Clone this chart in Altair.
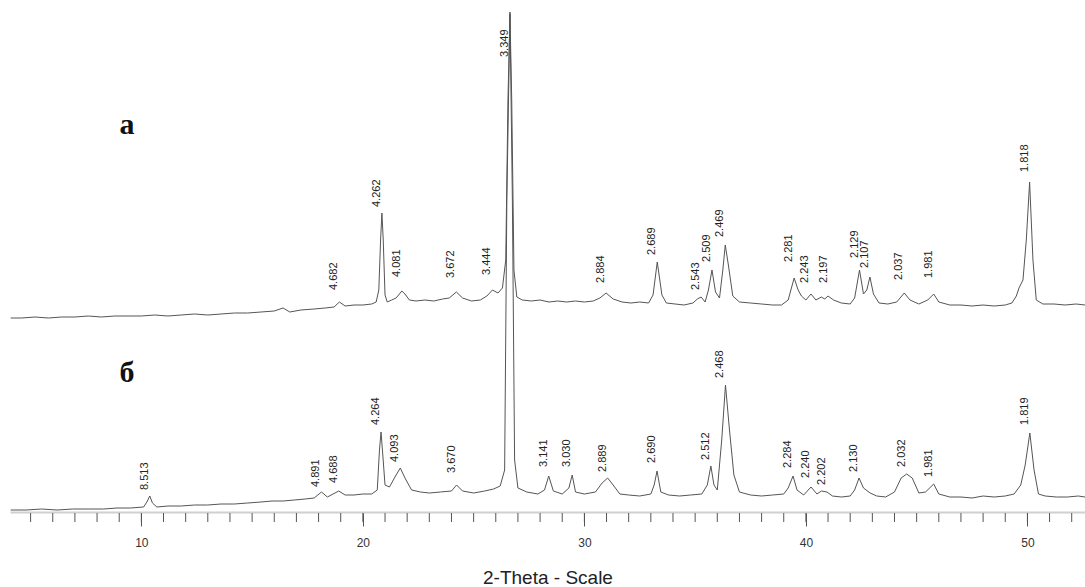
import altair as alt
import pandas as pd

# Trace "а" (upper pattern): (2-theta, intensity)
trace_a = [
    (4.1, 194), (4.6, 194), (5.2, 195), (5.8, 194), (6.4, 195), (7.0, 195), (7.6, 196), (8.2, 195),
    (8.8, 196), (9.4, 196), (10.0, 196), (10.6, 197), (11.2, 196), (11.8, 197), (12.4, 198), (13.0, 197),
    (13.6, 198), (14.2, 199), (14.8, 199), (15.4, 200), (16.0, 201), (16.4, 204), (16.7, 200), (17.2, 202),
    (17.8, 203), (18.3, 204), (18.7, 205), (18.94, 210), (19.2, 206), (19.6, 207), (20.0, 207), (20.4, 208),
    (20.6, 210), (20.72, 222), (20.80, 272), (20.86, 299), (20.92, 272), (21.0, 217), (21.1, 210), (21.3, 212),
    (21.5, 214), (21.76, 221), (21.9, 218), (22.1, 212), (22.4, 211), (22.8, 212), (23.2, 211), (23.6, 213),
    (23.9, 214), (24.22, 220), (24.5, 214), (24.9, 211), (25.3, 212), (25.6, 216), (25.85, 222), (26.1, 219),
    (26.3, 224), (26.45, 252), (26.55, 412), (26.64, 498), (26.72, 412), (26.82, 242), (26.95, 215), (27.2, 212),
    (27.6, 211), (28.0, 212), (28.4, 210), (28.8, 211), (29.2, 210), (29.6, 211), (30.0, 210), (30.4, 211),
    (30.7, 214), (30.98, 219), (31.3, 213), (31.7, 210), (32.1, 209), (32.5, 210), (32.9, 209), (33.1, 217),
    (33.29, 250), (33.5, 217), (33.7, 209), (34.1, 208), (34.5, 207), (34.9, 209), (35.1, 213), (35.27, 215),
    (35.45, 210), (35.6, 222), (35.76, 242), (35.92, 220), (36.1, 214), (36.25, 242), (36.36, 267), (36.5, 247),
    (36.7, 216), (37.0, 210), (37.5, 209), (38.0, 208), (38.5, 207), (38.9, 207), (39.2, 212), (39.47, 234),
    (39.65, 222), (39.8, 216), (40.0, 212), (40.23, 218), (40.45, 212), (40.7, 215), (40.85, 213), (41.0, 216),
    (41.25, 212), (41.6, 209), (42.0, 208), (42.2, 214), (42.42, 242), (42.6, 218), (42.75, 222), (42.89, 235),
    (43.05, 218), (43.3, 209), (43.7, 208), (44.1, 210), (44.44, 219), (44.7, 212), (45.1, 208), (45.5, 212),
    (45.77, 218), (46.0, 210), (46.5, 207), (47.0, 207), (47.5, 206), (48.0, 207), (48.5, 206), (49.0, 207),
    (49.3, 209), (49.5, 216), (49.62, 224), (49.8, 232), (49.95, 272), (50.1, 330), (50.25, 252), (50.4, 212),
    (50.7, 208), (51.2, 208), (51.7, 207), (52.2, 208), (52.6, 207),
]

# Trace "б" (lower pattern): (2-theta, intensity)
trace_b = [
    (4.1, 2), (4.8, 2), (5.5, 3), (6.2, 2), (6.9, 3), (7.6, 3), (8.3, 3), (8.9, 4), (9.5, 4), (10.1, 5),
    (10.25, 10), (10.38, 16), (10.5, 9), (10.7, 5), (11.2, 6), (11.8, 6), (12.4, 7), (13.0, 7), (13.6, 8),
    (14.2, 8), (14.8, 9), (15.4, 10), (15.9, 11), (16.4, 11), (16.9, 12), (17.4, 13), (17.8, 14), (18.13, 20),
    (18.4, 15), (18.91, 21), (19.2, 17), (19.6, 17), (20.0, 18), (20.4, 18), (20.65, 22), (20.75, 62),
    (20.82, 80), (20.9, 57), (21.0, 27), (21.2, 25), (21.5, 37), (21.69, 44), (21.9, 34), (22.2, 22),
    (22.6, 20), (23.0, 19), (23.5, 20), (24.0, 21), (24.23, 27), (24.5, 21), (25.0, 19), (25.5, 21),
    (25.9, 23), (26.2, 26), (26.4, 42), (26.5, 312), (26.64, 500), (26.75, 312), (26.85, 52), (27.0, 24),
    (27.4, 20), (27.9, 18), (28.2, 22), (28.39, 36), (28.6, 21), (29.0, 18), (29.3, 24), (29.45, 37),
    (29.6, 20), (30.0, 18), (30.5, 20), (30.8, 29), (31.05, 34), (31.3, 27), (31.6, 18), (32.0, 17),
    (32.5, 16), (33.0, 18), (33.15, 27), (33.28, 41), (33.45, 20), (33.8, 17), (34.3, 16), (34.8, 17),
    (35.3, 18), (35.55, 27), (35.71, 46), (35.85, 27), (36.0, 22), (36.2, 72), (36.37, 127), (36.55, 82),
    (36.75, 37), (37.0, 20), (37.5, 17), (38.0, 16), (38.5, 17), (39.0, 18), (39.2, 24), (39.42, 36),
    (39.6, 22), (39.9, 17), (40.23, 25), (40.5, 18), (40.7, 21), (40.95, 20), (41.2, 16), (41.6, 15),
    (42.0, 16), (42.2, 22), (42.40, 34), (42.6, 24), (42.9, 19), (43.2, 16), (43.6, 15), (44.0, 20),
    (44.3, 34), (44.55, 38), (44.8, 34), (45.1, 19), (45.4, 20), (45.77, 28), (46.0, 18), (46.5, 15),
    (47.0, 15), (47.5, 14), (48.0, 16), (48.5, 15), (49.0, 16), (49.4, 18), (49.7, 27), (49.9, 47),
    (50.11, 79), (50.3, 42), (50.5, 18), (50.8, 16), (51.3, 15), (51.8, 15), (52.3, 16), (52.6, 15),
]

# Peak labels (d-spacing text, 2-theta, intensity where the label starts)
labels_a = [
    ("4.682", 18.94, 222), ("4.262", 20.86, 305), ("4.081", 21.76, 235), ("3.672", 24.22, 234),
    ("3.444", 25.85, 237), ("3.349", 26.64, 455), ("2.884", 30.98, 229), ("2.689", 33.29, 257),
    ("2.543", 35.27, 222), ("2.509", 35.76, 250), ("2.469", 36.36, 275), ("2.281", 39.47, 250),
    ("2.243", 40.17, 229), ("2.197", 41.05, 229), ("2.129", 42.42, 254), ("2.107", 42.89, 244),
    ("2.037", 44.44, 232), ("1.981", 45.77, 234), ("1.818", 50.10, 340),
]
labels_b = [
    ("8.513", 10.38, 22), ("4.891", 18.13, 25), ("4.688", 18.91, 29), ("4.264", 20.82, 87),
    ("4.093", 21.69, 50), ("3.670", 24.23, 39), ("3.141", 28.39, 45), ("3.030", 29.45, 45),
    ("2.889", 31.05, 40), ("2.690", 33.28, 49), ("2.512", 35.71, 52), ("2.468", 36.37, 134),
    ("2.284", 39.42, 44), ("2.240", 40.23, 34), ("2.202", 40.95, 27), ("2.130", 42.40, 40),
    ("2.032", 44.55, 45), ("1.981", 45.77, 35), ("1.819", 50.11, 87),
]

major_ticks = [10, 20, 30, 40, 50]
minor_ticks = list(range(5, 53))
x_domain = [4.07, 52.6]
y_domain = [0, 512]

rows = [{"theta": t, "intensity": v, "trace": "а"} for t, v in trace_a]
rows += [{"theta": t, "intensity": v, "trace": "б"} for t, v in trace_b]
df = pd.DataFrame(rows)

lab_rows = [{"text": s, "theta": t, "pos": p} for s, t, p in labels_a + labels_b]
df_lab = pd.DataFrame(lab_rows)

df_minor = pd.DataFrame({"theta": minor_ticks})

x_scale = alt.Scale(domain=x_domain, nice=False, zero=False)
y_scale = alt.Scale(domain=y_domain, nice=False, zero=False)

axis_x = alt.Axis(
    values=major_ticks,
    format="d",
    grid=False,
    labelOverlap=False,
    domainColor="#d0d0d0",
    domainWidth=2,
    tickColor="#555",
    tickWidth=1,
    tickSize=14,
    labelFont="Liberation Sans",
    labelFontSize=12,
    labelColor="#333",
    labelPadding=11,
    titleFont="Liberation Sans",
    titleFontSize=19,
    titleFontWeight="normal",
    titleColor="#222",
    titlePadding=20,
)

lines = alt.Chart(df).mark_line(color="#555", strokeWidth=1, clip=True).encode(
    x=alt.X("theta:Q", scale=x_scale, axis=axis_x, title="2-Theta - Scale"),
    y=alt.Y("intensity:Q", scale=y_scale, axis=None),
    detail="trace:N",
)

minor = alt.Chart(df_minor).mark_rule(color="#555", strokeWidth=1).encode(
    x=alt.X("theta:Q", scale=x_scale),
    y=alt.value(513),
    y2=alt.value(522),
)

peak_text = alt.Chart(df_lab).mark_text(
    angle=270, align="left", baseline="bottom", fontSize=11,
    font="Liberation Sans", color="#222",
).encode(
    x=alt.X("theta:Q", scale=x_scale),
    y=alt.Y("pos:Q", scale=y_scale),
    text="text:N",
)

panel_a = alt.Chart(pd.DataFrame({"t": ["а"]})).mark_text(
    font="Liberation Serif", fontSize=30, fontWeight="bold", color="#111",
    align="center", baseline="alphabetic",
).encode(x=alt.value(117), y=alt.value(134), text="t:N")

panel_b = alt.Chart(pd.DataFrame({"t": ["б"]})).mark_text(
    font="Liberation Serif", fontSize=30, fontWeight="bold", color="#111",
    align="center", baseline="alphabetic",
).encode(x=alt.value(117), y=alt.value(382), text="t:N")

chart = alt.layer(lines, minor, peak_text, panel_a, panel_b).properties(
    width=1075, height=512,
    padding={"left": 10, "top": 0, "right": 0, "bottom": 75},
    autosize="none",
).configure_view(stroke=None)

chart.save("out.html", embed_options={"renderer": "svg", "actions": False})
